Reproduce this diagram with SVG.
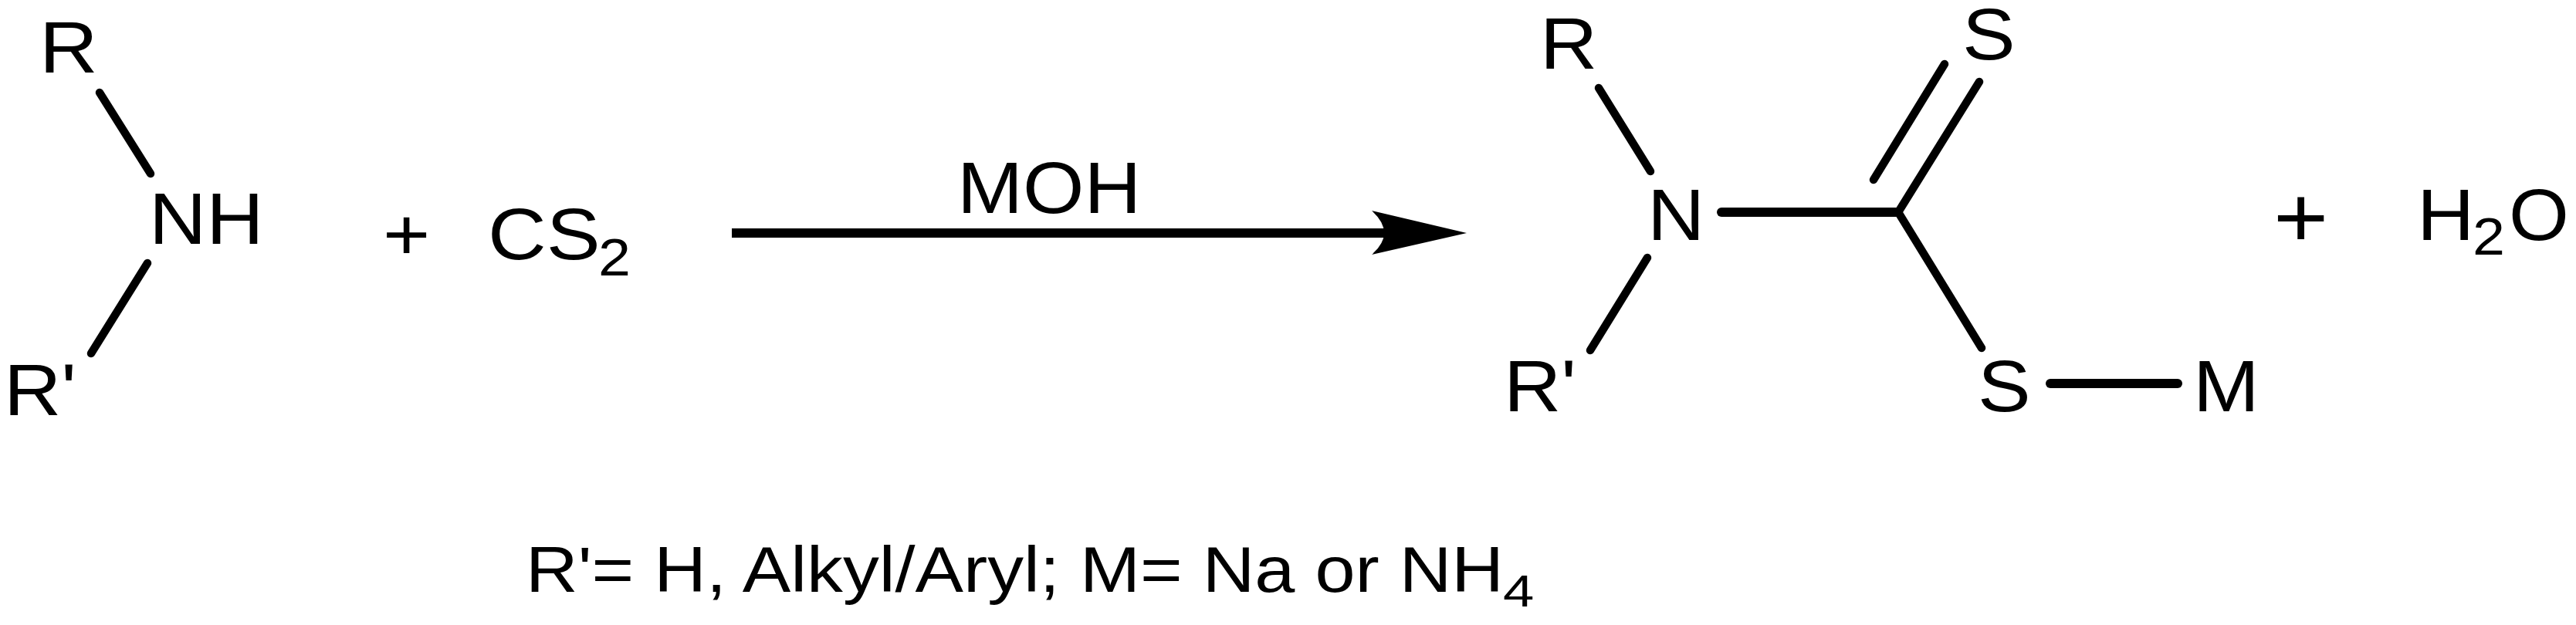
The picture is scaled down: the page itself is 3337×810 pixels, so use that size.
<svg xmlns="http://www.w3.org/2000/svg" width="3337" height="810" viewBox="0 0 3337 810">
<style>
text{font-family:"Liberation Sans",Arial,sans-serif;fill:#000}
.a{font-size:94.5px}
.s{font-size:68px}
.p{font-size:112px}
.c{font-size:84px}
.f{font-size:58px}
.b{stroke:#000;stroke-width:10.5;stroke-linecap:round;fill:none}
.h{stroke-width:12}
</style>
<rect width="3337" height="810" fill="#fff"/>
<g id="connectors">
<line class="b" x1="129" y1="120" x2="195" y2="225"/>
<line class="b" x1="191" y1="341" x2="118" y2="458"/>
<line x1="948" y1="302" x2="1795" y2="302" stroke="#000" stroke-width="12"/>
<path d="M1900 302L1777 273Q1809 302 1777 330Z" fill="#000"/>
<line class="b" x1="2071" y1="114" x2="2138" y2="222"/>
<line class="b" x1="2134" y1="334" x2="2060" y2="454"/>
<line class="b h" x1="2230" y1="275" x2="2459" y2="275"/>
<line class="b" x1="2459" y1="275" x2="2564" y2="106"/>
<line class="b" x1="2427" y1="233" x2="2519" y2="83"/>
<line class="b" x1="2459" y1="275" x2="2567" y2="451"/>
<line class="b h" x1="2656" y1="497" x2="2821" y2="497"/>
</g>
<g id="amine-R"><text class="a" transform="translate(51 94) scale(1.11 1)">R</text></g>
<g id="amine-NH"><text class="a" transform="translate(193 316) scale(1.09 1)">NH</text></g>
<g id="amine-Rp"><text class="a" transform="translate(5 538) scale(1.09 1)">R'</text></g>
<g id="plus-1"><text class="a" transform="translate(496 336) scale(1.11 1)">+</text></g>
<g id="cs2"><text class="a" transform="translate(632 336) scale(1.11 1)">CS</text><text class="s" transform="translate(775 357) scale(1.11 1)">2</text></g>
<g id="reagent"><text class="a" transform="translate(1240 276) scale(1.08 1)">MOH</text></g>
<g id="product-R"><text class="a" transform="translate(1995 89) scale(1.09 1)">R</text></g>
<g id="product-N"><text class="a" transform="translate(2134 311) scale(1.09 1)">N</text></g>
<g id="product-Rp"><text class="a" transform="translate(1948 533) scale(1.09 1)">R'</text></g>
<g id="product-S-top"><text class="a" transform="translate(2542 77) scale(1.09 1)">S</text></g>
<g id="product-S"><text class="a" transform="translate(2562 533) scale(1.09 1)">S</text></g>
<g id="product-M"><text class="a" transform="translate(2841 533) scale(1.09 1)">M</text></g>
<g id="plus-2"><text class="p" transform="translate(2945 320) scale(1.09 1)">+</text></g>
<g id="water"><text class="a" transform="translate(3131 311) scale(1.09 1)">H</text><text class="s" transform="translate(3203 330) scale(1.11 1)">2</text><text class="a" transform="translate(3250 311) scale(1.06 1)">O</text></g>
<g id="caption"><text class="c" x="681" y="767" textLength="1267" lengthAdjust="spacingAndGlyphs">R'= H, Alkyl/Aryl; M= Na or NH</text><text class="f" transform="translate(1947 786) scale(1.25 1)">4</text></g>
</svg>
